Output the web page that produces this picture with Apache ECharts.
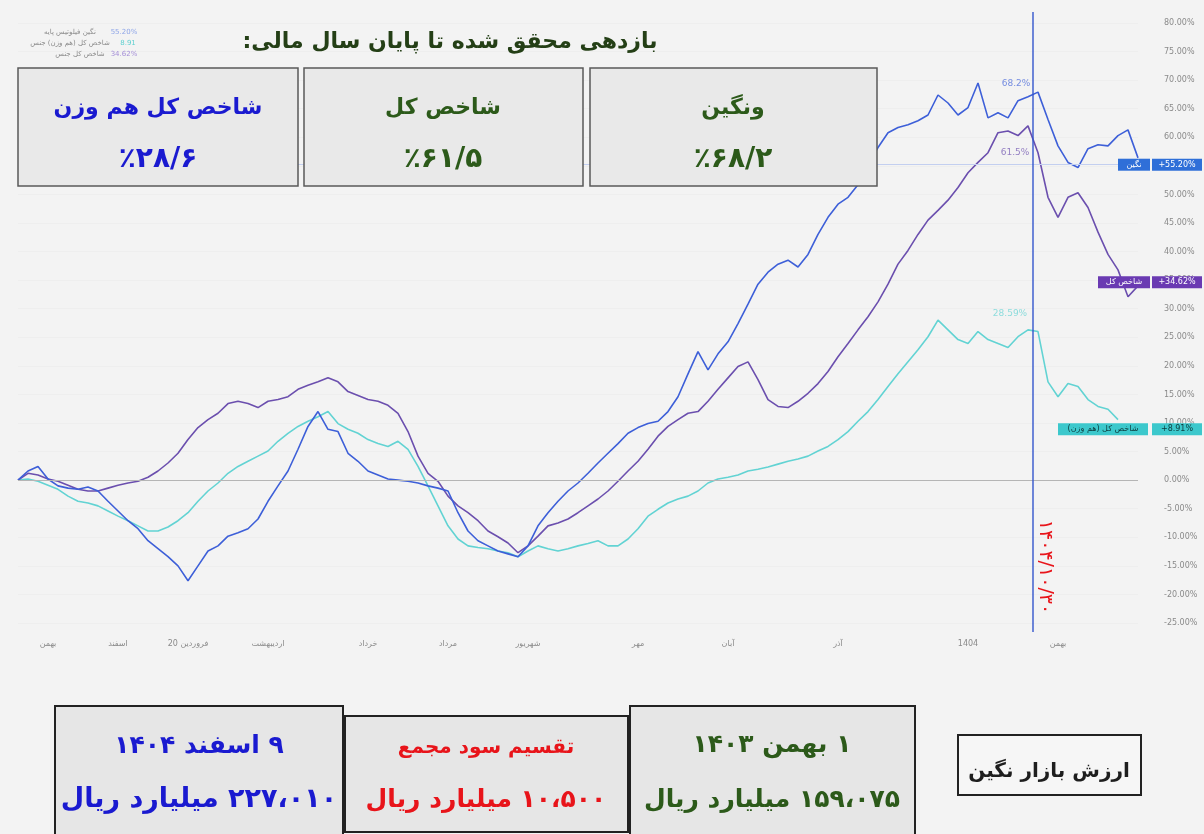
<!DOCTYPE html>
<html>
<head>
<meta charset="utf-8">
<script src="https://cdn.jsdelivr.net/npm/echarts@6.0.0/dist/echarts.min.js"></script>
<style>
  html, body { margin: 0; padding: 0; background: #f3f3f3; }
  #chart { width: 1204px; height: 834px; }
</style>
</head>
<body>
<div id="chart"></div>
<script>
// cumulative return (%) per trading step
const negin = [0, 1.6, 2.4, 0.2, -1.0, -1.4, -1.6, -1.2, -1.9, -3.7,
  -5.4, -7.1, -8.5, -10.6, -12.0, -13.4, -15.0, -17.6, -15.0, -12.4,
  -11.5, -9.8, -9.2, -8.5, -6.8, -3.7, -1.0, 1.6, 5.4, 9.4,
  12.0, 8.9, 8.5, 4.7, 3.3, 1.6, 0.9, 0.2, 0, -0.2,
  -0.5, -1.0, -1.4, -1.9, -5.7, -8.9, -10.6, -11.5, -12.4, -12.9,
  -13.4, -11.5, -8.0, -5.7, -3.7, -1.9, -0.5, 1.2, 3.0, 4.7,
  6.4, 8.2, 9.2, 9.9, 10.3, 12.0, 14.6, 18.6, 22.5, 19.3,
  22.1, 24.2, 27.4, 30.8, 34.3, 36.4, 37.8, 38.5, 37.3, 39.5,
  43.0, 46.0, 48.3, 49.5, 51.7, 55.2, 58.2, 60.8, 61.7, 62.2,
  62.9, 63.9, 67.4, 66.0, 63.9, 65.2, 69.5, 63.4, 64.3, 63.4,
  66.4, 67.1, 67.9, 63.1, 58.5, 55.6, 54.7, 58.0, 58.7, 58.5,
  60.3, 61.3, 56.4]

const shakhesKol = [0, 1.2, 0.9, 0.2, -0.2, -0.9, -1.6, -1.9, -1.9, -1.4,
  -0.9, -0.5, -0.2, 0.5, 1.6, 3.0, 4.7, 7.1, 9.2, 10.6,
  11.7, 13.4, 13.8, 13.4, 12.7, 13.8, 14.1, 14.6, 15.9, 16.6,
  17.2, 17.9, 17.2, 15.5, 14.8, 14.1, 13.8, 13.1, 11.7, 8.5,
  4.2, 1.2, -0.2, -2.8, -4.5, -5.7, -7.1, -8.9, -9.9, -11.0,
  -12.7, -11.5, -9.8, -8.0, -7.5, -6.8, -5.7, -4.5, -3.3, -1.9,
  -0.2, 1.6, 3.3, 5.4, 7.7, 9.4, 10.6, 11.7, 12.0, 13.8,
  15.9, 17.9, 19.9, 20.7, 17.6, 14.1, 12.9, 12.7, 13.8, 15.2,
  16.9, 19.0, 21.6, 23.9, 26.3, 28.6, 31.2, 34.3, 37.8, 40.2,
  43.0, 45.5, 47.2, 49.0, 51.2, 53.8, 55.6, 57.3, 60.8, 61.1,
  60.3, 62.0, 57.3, 49.5, 46.0, 49.5, 50.3, 47.7, 43.4, 39.5,
  36.8, 32.1, 34.0]

const hamVazn = [0, 0.2, -0.2, -0.9, -1.6, -2.8, -3.7, -4.0, -4.5, -5.4,
  -6.3, -7.1, -8.0, -8.9, -8.9, -8.2, -7.1, -5.7, -3.7, -1.9,
  -0.5, 1.2, 2.4, 3.3, 4.2, 5.1, 6.8, 8.2, 9.4, 10.3,
  11.1, 12.0, 9.9, 8.9, 8.2, 7.1, 6.4, 5.9, 6.8, 5.4,
  2.4, -1.0, -4.5, -8.0, -10.3, -11.5, -11.8, -12.0, -12.4, -12.7,
  -13.4, -12.4, -11.5, -12.0, -12.4, -12.0, -11.5, -11.1, -10.6, -11.5,
  -11.5, -10.3, -8.5, -6.3, -5.1, -4.0, -3.3, -2.8, -1.9, -0.5,
  0.2, 0.5, 0.9, 1.6, 1.9, 2.3, 2.8, 3.3, 3.7, 4.2,
  5.1, 5.9, 7.1, 8.5, 10.3, 12.0, 14.1, 16.4, 18.6, 20.7,
  22.8, 25.1, 28.0, 26.3, 24.6, 23.9, 26.0, 24.6, 23.9, 23.2,
  25.1, 26.3, 26.0, 17.2, 14.6, 16.9, 16.4, 14.1, 12.9, 12.4,
  10.6, null, null]

// month ticks: [step index, label]
const monthTicks = [[3, 'بهمن'], [10, 'اسفند'], [17, '20 فروردین'], [25, 'اردیبهشت'],
  [35, 'خرداد'], [43, 'مرداد'], [51, 'شهریور'], [62, 'مهر'], [71, 'آبان'],
  [82, 'آذر'], [95, '1404'], [104, 'بهمن']]

const lastValues = { negin: 55.20, shakhesKol: 34.62, hamVazn: 8.91 }
// [label, step index, value, label offset]
const peakLabels = [['68.2%', 102, 67.9, [-22, -8]], ['61.5%', 101, 62.0, [-13, 27]], ['28.59%', 101, 26.3, [-18, -16]]]
const fiscalYearEnd = 101.5

const categories = negin.map((v, i) => String(i))
const tickMap = {}
monthTicks.forEach(([i, t]) => { tickMap[i] = t })

const FONT = 'DejaVu Sans'
const RLM = '\u200F'
const BLUE = '#3d5fd8'
const PURPLE = '#6b4fae'
const TEAL = '#62d3d3'

const chart = echarts.init(document.getElementById('chart'))

function lineSeries (name, data, color, peak, extra) {
  return Object.assign({
    name: name,
    type: 'line',
    data: data,
    showSymbol: false,
    symbol: 'none',
    lineStyle: { color: color, width: 1.6 },
    itemStyle: { color: color },
    markPoint: {
      symbol: 'circle',
      symbolSize: 0,
      data: [{ coord: [peak[1], peak[2]] }],
      label: {
        show: true,
        formatter: peak[0],
        offset: peak[3],
        fontSize: 9,
        fontFamily: FONT,
        color: echarts.color.modifyAlpha(color, 0.7)
      }
    }
  }, extra || {})
}

const option = {
  backgroundColor: '#f3f3f3',
  animation: false,
  grid: { left: 18, right: 66, top: 23, bottom: 211 },
  xAxis: {
    type: 'category',
    data: categories,
    boundaryGap: false,
    axisLine: { show: false },
    axisTick: { show: false },
    splitLine: { show: false },
    axisLabel: {
      interval: 0,
      margin: 17,
      fontSize: 8,
      fontFamily: FONT,
      color: '#8a8a8a',
      formatter: (v, i) => tickMap[i] || ''
    }
  },
  yAxis: {
    type: 'value',
    position: 'right',
    min: -25,
    max: 80,
    interval: 5,
    axisLine: { show: false },
    axisTick: { show: false },
    splitLine: { show: true, lineStyle: { color: '#eeeeee' } },
    axisLabel: {
      margin: 26,
      fontSize: 8,
      fontFamily: FONT,
      color: '#8a8a8a',
      formatter: (v) => v.toFixed(2) + '%'
    }
  },
  series: [
    lineSeries('شاخص کل هم وزن', hamVazn, TEAL, peakLabels[2]),
    lineSeries('شاخص کل', shakhesKol, PURPLE, peakLabels[1]),
    lineSeries('نگین', negin, BLUE, peakLabels[0], {
      markLine: {
        silent: true,
        symbol: 'none',
        label: { show: false },
        data: [
          { yAxis: 0, lineStyle: { color: '#b5b5b5', width: 1, type: 'solid' } },
          { yAxis: lastValues.negin, lineStyle: { color: '#c3cff0', width: 1, type: 'solid' } }
        ]
      }
    })
  ]
}

chart.setOption(option)

// position-dependent decorations go through the chart's own scales
const yPx = (v) => chart.convertToPixel({ yAxisIndex: 0 }, v)
const xPx = (i) => chart.convertToPixel({ xAxisIndex: 0 }, String(i))
const vx = (xPx(Math.floor(fiscalYearEnd)) + xPx(Math.ceil(fiscalYearEnd))) / 2

function box (x, y, w, h, fill, stroke, lw) {
  return { type: 'rect', shape: { x: x, y: y, width: w, height: h }, style: { fill: fill, stroke: stroke, lineWidth: lw }, z: 10 }
}
function txt (s, x, y, size, color, extra) {
  return {
    type: 'text', x: x, y: y, z: 11,
    style: Object.assign({ text: s, fontFamily: FONT, fontSize: size, fontWeight: 'bold', fill: color, align: 'center', verticalAlign: 'middle' }, extra || {})
  }
}
// right-to-left run: leading mark keeps leading digits inside the RTL run
const rtl = (s) => RLM + s + RLM

function priceTag (name, value, y, xName, wName, bg, fg) {
  const h = 12
  return [
    box(xName, y - h / 2, wName, h, bg, null, 0),
    box(1152, y - h / 2, 50, h, bg, null, 0),
    txt(rtl(name), xName + wName / 2, y, 8, fg, { fontWeight: 'normal' }),
    txt('+' + value.toFixed(2) + '%', 1177, y, 8, fg, { fontWeight: 'normal' })
  ]
}

const GREEN = '#2c5a1a'
const DARKBLUE = '#1a1ad0'
const RED = '#e8141a'

const dateLabel = txt('۱۴۰۴/۱۰/۳۰', vx + 12, 567, 19, RED, { fontWeight: 'normal' })
dateLabel.rotation = -Math.PI / 2

const graphics = [
  // fiscal year end marker
  { type: 'line', shape: { x1: vx, y1: 12, x2: vx, y2: 632 }, style: { stroke: '#3355cc', lineWidth: 1.4 }, z: 5 },
  dateLabel,

  // legend in the corner
  txt(rtl('نگین فیلوتیس پایه'), 70, 32, 7, '#8a8a8a', { fontWeight: 'normal' }),
  txt('55.20%', 124, 32, 7, '#8fa6e8', { fontWeight: 'normal' }),
  txt(rtl('شاخص کل (هم وزن) جنس'), 70, 43, 7, '#8a8a8a', { fontWeight: 'normal' }),
  txt('8.91', 128, 43, 7, '#5fd0d0', { fontWeight: 'normal' }),
  txt(rtl('شاخص کل جنس'), 80, 54, 7, '#8a8a8a', { fontWeight: 'normal' }),
  txt('34.62%', 124, 54, 7, '#a58fd8', { fontWeight: 'normal' }),

  // title
  txt(rtl('بازدهی محقق شده تا پایان سال مالی:'), 450, 42, 22, '#243f16'),

  // top result boxes
  box(18, 68, 280, 118, '#e9e9e9', '#5a5a5a', 1.5),
  box(304, 68, 279, 118, '#e9e9e9', '#5a5a5a', 1.5),
  box(590, 68, 287, 118, '#e9e9e9', '#5a5a5a', 1.5),
  txt(rtl('شاخص کل هم وزن'), 158, 108, 22, DARKBLUE),
  txt('٪۲۸/۶', 158, 160, 28, DARKBLUE),
  txt(rtl('شاخص کل'), 443, 108, 22, GREEN),
  txt('٪۶۱/۵', 443, 160, 28, GREEN),
  txt(rtl('ونگین'), 733, 108, 22, GREEN),
  txt('٪۶۸/۲', 733, 160, 28, GREEN),

  // bottom boxes
  box(55, 706, 288, 140, '#e6e6e6', '#222', 2),
  box(345, 716, 283, 116, '#e6e6e6', '#222', 2),
  box(630, 706, 285, 140, '#e6e6e6', '#222', 2),
  box(958, 735, 183, 60, '#f6f6f6', '#222', 2),
  txt(rtl('۹ اسفند ۱۴۰۴'), 199, 746, 25, DARKBLUE),
  txt(rtl('۲۲۷،۰۱۰ میلیارد ریال'), 199, 800, 27, DARKBLUE),
  txt(rtl('تقسیم سود مجمع'), 486, 748, 20, RED),
  txt(rtl('۱۰،۵۰۰ میلیارد ریال'), 486, 800, 25, RED),
  txt(rtl('۱ بهمن ۱۴۰۳'), 772, 745, 25, GREEN),
  txt(rtl('۱۵۹،۰۷۵ میلیارد ریال'), 772, 800, 25, GREEN),
  txt(rtl('ارزش بازار نگین'), 1049, 772, 20, '#1e1e1e')
]

priceTag('نگین', lastValues.negin, yPx(lastValues.negin), 1118, 32, '#2f6fd8', '#ffffff').forEach((g) => graphics.push(g))
priceTag('شاخص کل', lastValues.shakhesKol, yPx(lastValues.shakhesKol), 1098, 52, '#6a3ab2', '#ffffff').forEach((g) => graphics.push(g))
priceTag('شاخص کل (هم وزن)', lastValues.hamVazn, yPx(lastValues.hamVazn), 1058, 90, '#3cc8cc', '#0d3b3d').forEach((g) => graphics.push(g))

chart.setOption({ graphic: graphics })
</script>
</body>
</html>
